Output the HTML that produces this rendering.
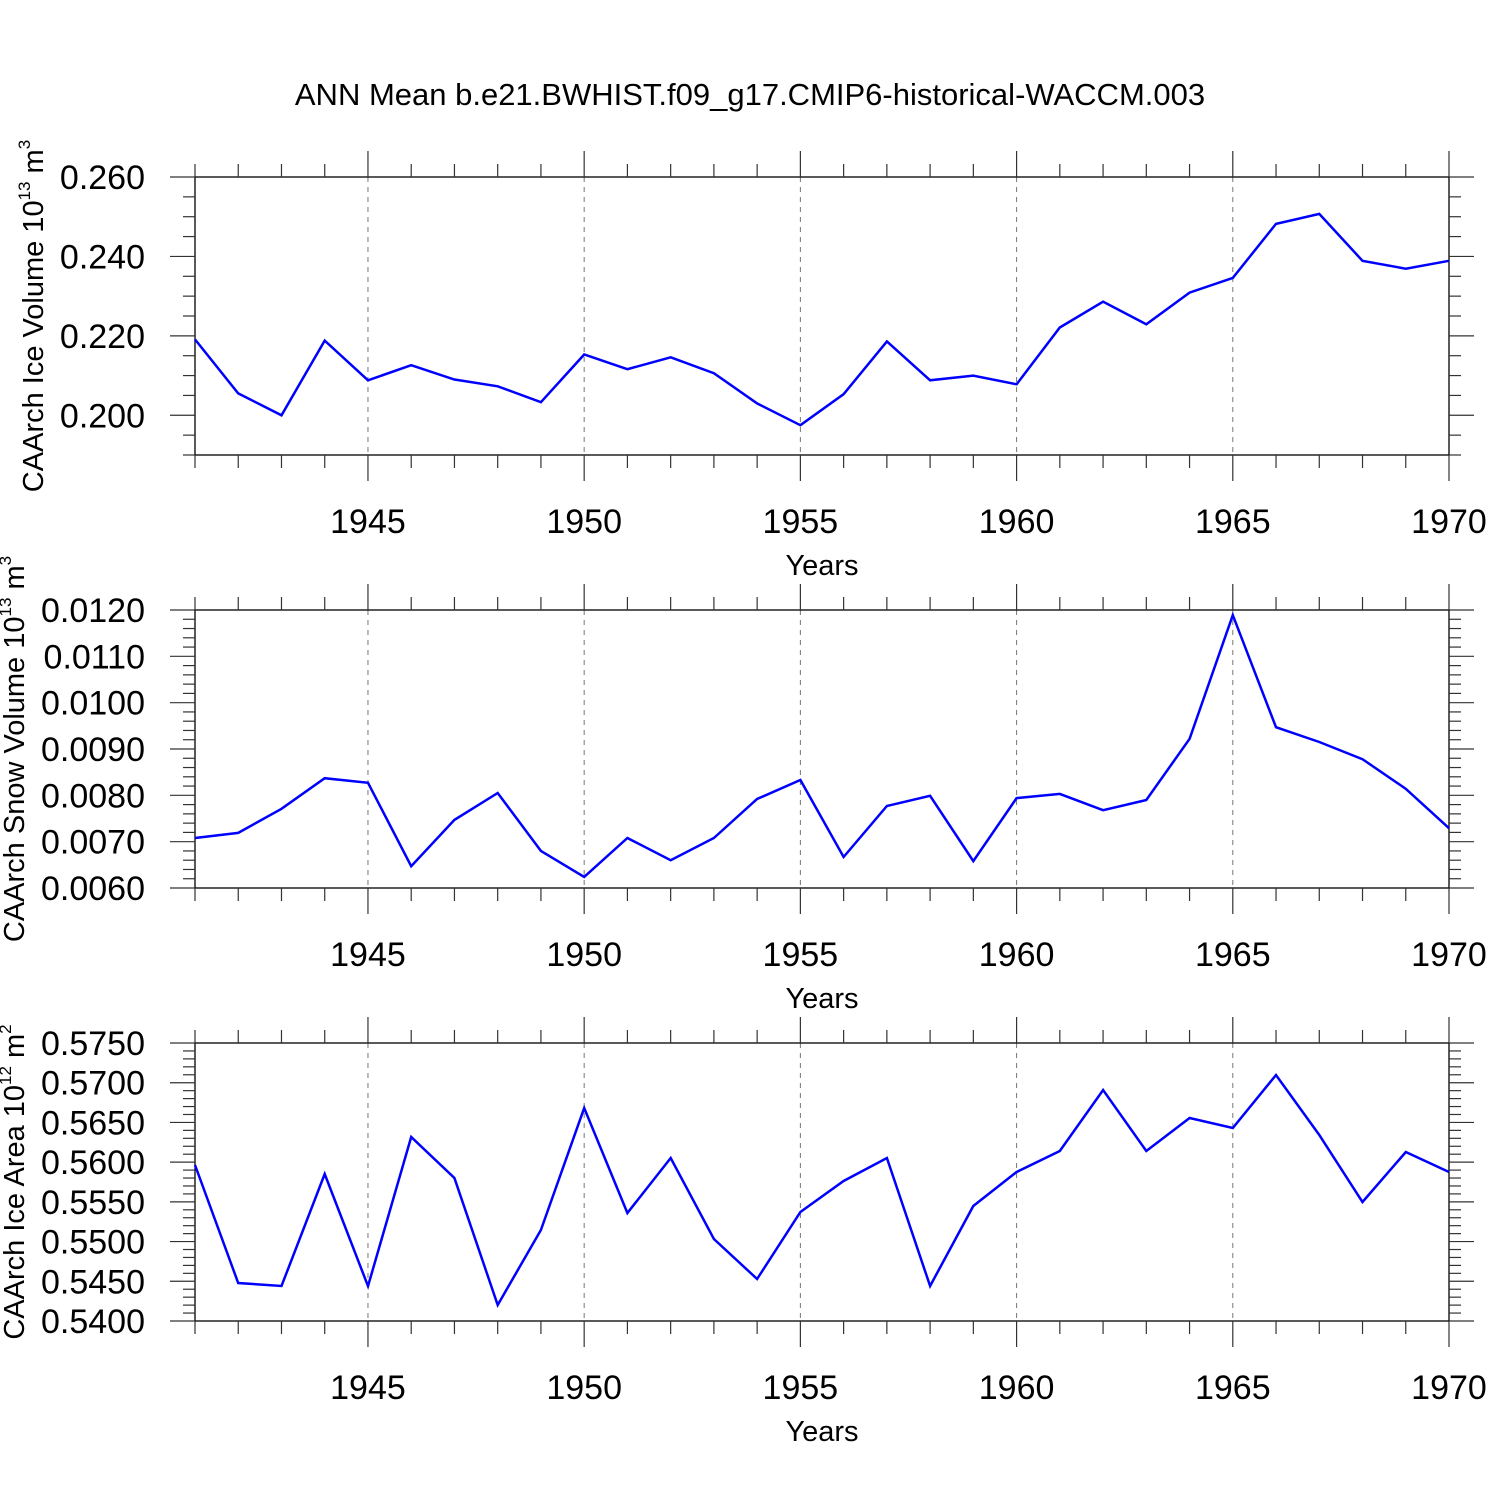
<!DOCTYPE html>
<html><head><meta charset="utf-8"><style>
html,body{margin:0;padding:0;background:#fff;}
svg{display:block;font-family:"Liberation Sans",Arial,sans-serif;}
</style></head><body>
<svg id="chart" width="1500" height="1500" viewBox="0 0 1500 1500" xmlns="http://www.w3.org/2000/svg">
<rect width="1500" height="1500" fill="#fff"/>
<text x="750" y="105" font-size="31" text-anchor="middle">ANN Mean b.e21.BWHIST.f09_g17.CMIP6-historical-WACCM.003</text>
</svg>
<script>
const years = [1941,1942,1943,1944,1945,1946,1947,1948,1949,1950,1951,1952,1953,1954,1955,1956,1957,1958,1959,1960,1961,1962,1963,1964,1965,1966,1967,1968,1969,1970];
const iceVolume = [0.2191,0.2055,0.2000,0.2188,0.2088,0.2126,0.2090,0.2073,0.2033,0.2153,0.2116,0.2146,0.2106,0.2030,0.1975,0.2053,0.2186,0.2088,0.2100,0.2078,0.2221,0.2286,0.2229,0.2309,0.2346,0.2482,0.2507,0.2389,0.2369,0.2389];
const snowVolume = [0.00708,0.00719,0.00771,0.00837,0.00827,0.00647,0.00747,0.00805,0.00680,0.00624,0.00708,0.00660,0.00708,0.00792,0.00833,0.00667,0.00777,0.00799,0.00658,0.00794,0.00803,0.00768,0.00790,0.00922,0.01189,0.00947,0.00915,0.00878,0.00814,0.00729];
const iceArea = [0.55964,0.54478,0.54441,0.55851,0.5444,0.56316,0.55800,0.54202,0.55146,0.56682,0.55360,0.56052,0.55032,0.54529,0.55372,0.55763,0.56052,0.54441,0.55448,0.55876,0.5614,0.56908,0.5614,0.56556,0.5643,0.57097,0.56342,0.55498,0.56128,0.55876];
const xTickLabels = ["1945","1950","1955","1960","1965","1970"];
const iceVolTicks = ["0.200","0.220","0.240","0.260"];
const snowTicks = ["0.0060","0.0070","0.0080","0.0090","0.0100","0.0110","0.0120"];
const areaTicks = ["0.5400","0.5450","0.5500","0.5550","0.5600","0.5650","0.5700","0.5750"];

const svg = document.getElementById('chart');
const NS = 'http://www.w3.org/2000/svg';
function mk(tag, attrs){const e=document.createElementNS(NS,tag);for(const k in attrs)e.setAttribute(k,attrs[k]);svg.appendChild(e);return e;}
const X0=195, X1=1449, xMin=1941, xMax=1970;
function xs(v){return X0+(v-xMin)/(xMax-xMin)*(X1-X0);}

const panels = [
 {top:177,bot:455,yMin:0.19,yMax:0.26,major:0.02,majorStart:0.2,minor:0.005,ticks:iceVolTicks,data:iceVolume,title:'CAArch Ice Volume 10',sup:'13',unit:'m',usup:'3',cy:316,tx:43,name:'ice-volume'},
 {top:610,bot:888,yMin:0.006,yMax:0.012,major:0.001,majorStart:0.006,minor:0.0002,ticks:snowTicks,data:snowVolume,title:'CAArch Snow Volume 10',sup:'13',unit:'m',usup:'3',cy:749,tx:24,name:'snow-volume'},
 {top:1043,bot:1321,yMin:0.54,yMax:0.575,major:0.005,majorStart:0.54,minor:0.001,ticks:areaTicks,data:iceArea,title:'CAArch Ice Area 10',sup:'12',unit:'m',usup:'2',cy:1182,tx:24,name:'ice-area'}
];

panels.forEach((p,pi)=>{
  const ys=v=>p.bot-(v-p.yMin)/(p.yMax-p.yMin)*(p.bot-p.top);
  for(let y=1945;y<1970;y+=5){
    const g=mk('line',{x1:xs(y),x2:xs(y),y1:p.top,y2:p.bot,stroke:'#777','stroke-width':1,'stroke-dasharray':'5,5'});
    
    
  }
  const fr=mk('rect',{x:X0,y:p.top,width:X1-X0,height:p.bot-p.top,fill:'none',stroke:'#000','stroke-width':1.3});
  
  
  years.forEach(y=>{
    const maj=(y%5===0), L=maj?26:13, x=xs(y);
    mk('line',{x1:x,x2:x,y1:p.top,y2:p.top-L,stroke:'#333','stroke-width':1.2});
    mk('line',{x1:x,x2:x,y1:p.bot,y2:p.bot+L,stroke:'#333','stroke-width':1.2});
  });
  xTickLabels.forEach(l=>{
    const t=mk('text',{x:xs(+l),y:p.bot+78,'font-size':34,'text-anchor':'middle'});
    t.textContent=l;
    
    
  });
  const xt=mk('text',{x:822,y:p.bot+120,'font-size':29,'text-anchor':'middle'});
  xt.textContent='Years';
  
  
  const nMin=Math.round((p.yMax-p.yMin)/p.minor);
  for(let i=0;i<=nMin;i++){
    const v=p.yMin+i*p.minor, y=ys(v);
    const rel=(v-p.majorStart)/p.major, maj=Math.abs(rel-Math.round(rel))<1e-6;
    const L=maj?25:12;
    mk('line',{x1:X0,x2:X0-L,y1:y,y2:y,stroke:'#333','stroke-width':1.2});
    mk('line',{x1:X1,x2:X1+L,y1:y,y2:y,stroke:'#333','stroke-width':1.2});
  }
  p.ticks.forEach(l=>{
    const t=mk('text',{x:145,y:ys(+l)+12,'font-size':34,'text-anchor':'end'});
    t.textContent=l;
    
    
  });
  const yt=mk('text',{x:0,y:0,'font-size':29,'text-anchor':'middle',transform:`translate(${p.tx},${p.cy}) rotate(-90)`});
  
  
  yt.innerHTML=`${p.title}<tspan font-size="17" dy="-13">${p.sup}</tspan><tspan dy="13"> ${p.unit}</tspan><tspan font-size="17" dy="-13">${p.usup}</tspan>`;
  const pts=p.data.map((v,i)=>xs(years[i]).toFixed(1)+','+ys(v).toFixed(1)).join(' ');
  const ln=mk('polyline',{points:pts,fill:'none',stroke:'#0000ff','stroke-width':2.5,'stroke-linejoin':'miter'});
  
  
});
</script>
</body></html>
